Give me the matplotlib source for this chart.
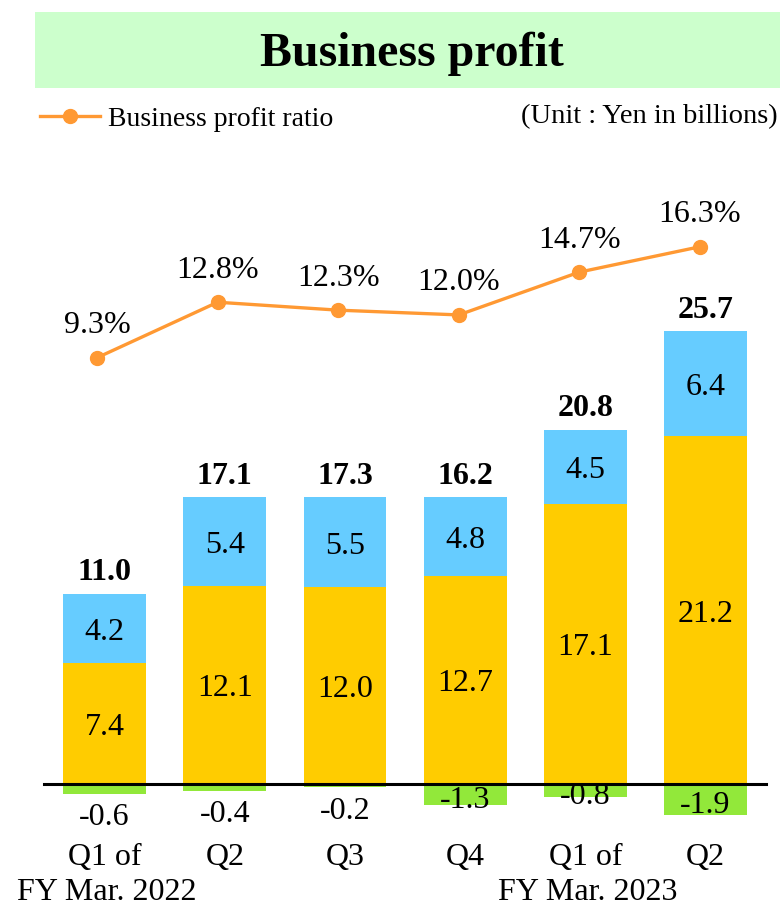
import matplotlib
matplotlib.use("Agg")
import matplotlib.pyplot as plt
from matplotlib.patches import Rectangle
from matplotlib.lines import Line2D

plt.rcParams['font.family'] = ['Liberation Serif', 'DejaVu Serif']

categories = ["Q1 of", "Q2", "Q3", "Q4", "Q1 of", "Q2"]
fy_labels = ["FY Mar. 2022", "FY Mar. 2023"]
fy_index = [0, 4]
yellow_vals = [7.4, 12.1, 12.0, 12.7, 17.1, 21.2]
blue_vals = [4.2, 5.4, 5.5, 4.8, 4.5, 6.4]
green_vals = [-0.6, -0.4, -0.2, -1.3, -0.8, -1.9]
totals = [11.0, 17.1, 17.3, 16.2, 20.8, 25.7]
ratio = [9.3, 12.8, 12.3, 12.0, 14.7, 16.3]

YELLOW = "#FFCC00"
BLUE = "#66CCFF"
GREEN = "#92E83A"
ORANGE = "#FF9933"

W, H = 780, 906
fig = plt.figure(figsize=(W / 100, H / 100), dpi=100)

# title box
fig.add_artist(Rectangle((35 / W, 1 - 88 / H), 1 - 35 / W, 76 / H,
                         transform=fig.transFigure, facecolor="#CCFFCC",
                         edgecolor="none", zorder=0))
fig.text(412 / W, 1 - 54 / H, "Business profit", ha="center", va="center",
         fontsize=34.5, fontweight="bold")

# legend
fig.add_artist(Line2D([40 / W, 100 / W], [1 - 116 / H, 1 - 116 / H],
                      transform=fig.transFigure, color=ORANGE, lw=2.4))
fig.add_artist(Line2D([70 / W], [1 - 116 / H], transform=fig.transFigure,
                      color=ORANGE, marker="o", markersize=10, lw=0))
fig.text(108 / W, 1 - 119 / H, "Business profit ratio", ha="left", va="center",
         fontsize=20)
fig.text(778 / W, 1 - 117 / H, "(Unit : Yen in billions)", ha="right",
         va="center", fontsize=20.5)

# bar axes
ax = fig.add_axes([0, 0, 1, 1])
ax.set_axis_off()
ppu = 16.4
zero_px = 784
ax.set_xlim(-104.6 / 120.2, (W - 104.6) / 120.2)
ax.set_ylim(-(H - zero_px) / ppu, zero_px / ppu)

x = list(range(len(categories)))
bw = 0.69
ax.bar(x, yellow_vals, width=bw, color=YELLOW, zorder=2)
ax.bar(x, blue_vals, width=bw, bottom=yellow_vals, color=BLUE, zorder=2)
ax.bar(x, green_vals, width=bw, color=GREEN, zorder=2)
ax.axhline(0, xmin=44 / W, xmax=766 / W, color="black", lw=2.2, zorder=3)

fs = 23
dy = -4  # visual centering correction (pixels)
for i in x:
    ax.annotate(f"{yellow_vals[i]:.1f}", (i, yellow_vals[i] / 2),
                xytext=(0, dy), textcoords="offset pixels", ha="center",
                va="center", fontsize=fs, zorder=4)
    ax.annotate(f"{blue_vals[i]:.1f}", (i, yellow_vals[i] + blue_vals[i] / 2),
                xytext=(0, dy), textcoords="offset pixels", ha="center",
                va="center", fontsize=fs, zorder=4)
    top = yellow_vals[i] + blue_vals[i]
    ax.annotate(f"{totals[i]:.1f}", (i, top), xytext=(0, 21),
                textcoords="offset pixels", ha="center", va="center",
                fontsize=fs, fontweight="bold")
    g = green_vals[i]
    if abs(g) >= 0.8:
        ax.annotate(f"{g:.1f}", (i, g / 2), xytext=(0, -6),
                    textcoords="offset pixels", ha="center", va="center",
                    fontsize=fs, zorder=4)
    else:
        ax.annotate(f"{g:.1f}", (i, g), xytext=(0, -24),
                    textcoords="offset pixels", ha="center", va="center",
                    fontsize=fs, zorder=4)
    ax.annotate(categories[i], (i, 0), xytext=(0, -74),
                textcoords="offset pixels", ha="center", va="center",
                fontsize=fs)

for lbl, idx in zip(fy_labels, fy_index):
    ax.annotate(lbl, (idx, 0), xytext=(2, -109), textcoords="offset pixels",
                ha="center", va="center", fontsize=fs)

# ratio axes
ax2 = fig.add_axes([0, 0, 1, 1], label="ratio")
ax2.set_axis_off()
ax2.patch.set_alpha(0)
rppu = 15.857
rzero_px = 505.2
ax2.set_xlim(-97 / 120.6, (W - 97) / 120.6)
ax2.set_ylim(-(H - rzero_px) / rppu, rzero_px / rppu)
ax2.plot(x, ratio, color=ORANGE, lw=2.4, marker="o", markersize=10, zorder=5)
for i in x:
    ax2.annotate(f"{ratio[i]:.1f}%", (i, ratio[i]), xytext=(0, 32),
                 textcoords="offset pixels", ha="center", va="center",
                 fontsize=fs)

fig.savefig("out.png", dpi=100)
